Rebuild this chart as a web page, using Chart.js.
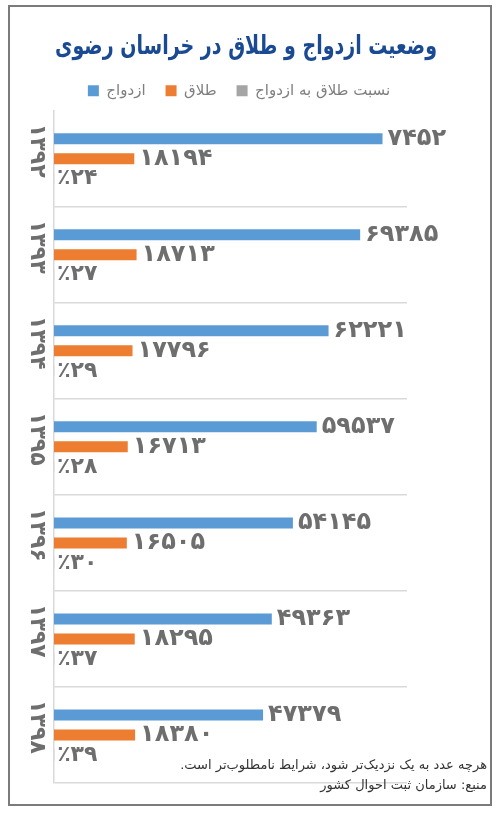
<!DOCTYPE html>
<html lang="fa">
<head>
<meta charset="utf-8">
<title>وضعیت ازدواج و طلاق در خراسان رضوی</title>
<script src="https://cdn.jsdelivr.net/npm/chart.js@4.4.1/dist/chart.umd.min.js"></script>
<style>
    body { margin: 0; background: #fff; }
    #wrap { position: relative; width: 500px; height: 814px; }
    #frame {
        position: absolute; left: 8px; top: 5px; width: 480px; height: 797px;
        border: 2px solid #7b7b7b; pointer-events: none;
    }
    .note {
        position: absolute; right: 13px; direction: rtl; text-align: right;
        font-family: "DejaVu Sans", sans-serif; font-size: 13px; color: #333;
    }
</style>
</head>
<body>
<div id="wrap">
    <canvas id="chart"></canvas>
    <div id="frame"></div>
    <div class="note" style="top: 757px;">هرچه عدد به یک نزدیک‌تر شود، شرایط نامطلوب‌تر است.</div>
    <div class="note" style="top: 777px;">منبع: سازمان ثبت احوال کشور</div>
</div>
<script>
// سال‌ها
const years = ['۱۳۹۲', '۱۳۹۳', '۱۳۹۴', '۱۳۹۵', '۱۳۹۶', '۱۳۹۷', '۱۳۹۸'];
// ازدواج
const marriage = [74452, 69385, 62221, 59537, 54145, 49363, 47379];
// عددی که روی نمودار اصلی چاپ شده (۷۴۴۵۲ به صورت ۷۴۵۲ آمده)
const marriagePrinted = [7452, 69385, 62221, 59537, 54145, 49363, 47379];
// طلاق
const divorce = [18194, 18713, 17796, 16713, 16505, 18295, 18380];
// نسبت طلاق به ازدواج (درصد)
const ratio = [24, 27, 29, 28, 30, 37, 39];

const faDigits = '۰۱۲۳۴۵۶۷۸۹';
function toFa(n) {
    return String(n).replace(/\d/g, d => faDigits[d]);
}

const labelFont = '"DejaVu Sans", sans-serif';

// اعداد کنار میله‌ها
const barLabels = {
    id: 'barLabels',
    afterDatasetsDraw(chart) {
        const ctx = chart.ctx;
        ctx.save();
        ctx.fillStyle = '#6e6e6e';
        ctx.textBaseline = 'middle';
        ctx.textAlign = 'left';
        chart.data.datasets.forEach((ds, i) => {
            const meta = chart.getDatasetMeta(i);
            meta.data.forEach((bar, j) => {
                let txt;
                if (i === 0) txt = toFa(marriagePrinted[j]);
                else if (i === 1) txt = toFa(divorce[j]);
                else txt = '٪' + toFa(ratio[j]);
                ctx.font = 'bold ' + (i === 2 ? 22 : 24) + 'px ' + labelFont;
                ctx.fillText(txt, bar.x + (i === 2 ? 3 : 5), bar.y);
            });
        });
        ctx.restore();
    }
};

// برچسب سال‌ها به صورت عمودی
const yearLabels = {
    id: 'yearLabels',
    afterDraw(chart) {
        const ctx = chart.ctx;
        const y = chart.scales.y;
        ctx.save();
        ctx.fillStyle = '#6e6e6e';
        ctx.font = 'bold 22px ' + labelFont;
        ctx.textAlign = 'center';
        ctx.textBaseline = 'middle';
        chart.data.labels.forEach((lbl, i) => {
            ctx.save();
            ctx.translate(37, y.getPixelForTick(i) - 8);
            ctx.rotate(Math.PI / 2);
            ctx.fillText(lbl, 0, 0);
            ctx.restore();
        });
        ctx.restore();
    }
};

// جای عنوان و راهنما در قاب، با کمی فاصله زیر راهنما
const header = {
    id: 'header',
    beforeLayout(chart) {
        const lg = chart.legend;
        if (lg && !lg._extra) {
            const fit = lg.fit;
            lg.fit = function () {
                fit.call(this);
                this.height += 2.5;
            };
            lg._extra = true;
        }
    },
    afterLayout(chart) {
        const t = chart.titleBlock;
        t.left = 55; t.right = 437; t.width = 382;
        const lg = chart.legend;
        lg.left = 0; lg.right = 478; lg.width = 478;
    }
};

const ctx = document.getElementById('chart').getContext('2d');
new Chart(ctx, {
    type: 'bar',
    data: {
        labels: years,
        datasets: [{
            label: 'ازدواج',
            data: marriage,
            backgroundColor: '#5b9bd5',
            borderWidth: 0
        }, {
            label: 'طلاق',
            data: divorce,
            backgroundColor: '#ed7d31',
            borderWidth: 0
        }, {
            label: 'نسبت طلاق به ازدواج',
            data: ratio,
            backgroundColor: '#a5a5a5',
            borderWidth: 0
        }]
    },
    options: {
        indexAxis: 'y',
        responsive: true,
        maintainAspectRatio: false,
        animation: false,
        datasets: {
            bar: {
                categoryPercentage: 0.625,
                barPercentage: 0.55
            }
        },
        layout: {
            padding: { left: 54, right: 93, top: 10, bottom: 31 }
        },
        scales: {
            x: {
                display: false,
                min: 0,
                max: 80000
            },
            y: {
                ticks: { display: false },
                grid: {
                    drawTicks: false,
                    lineWidth: 1.5,
                    color: function (c) {
                        return (c.index === 0 || c.index === years.length) ? 'rgba(0,0,0,0)' : '#d9d9d9';
                    }
                },
                border: { display: true, color: '#d9d9d9', width: 1.5 }
            }
        },
        plugins: {
            title: {
                display: true,
                text: 'وضعیت ازدواج و طلاق در خراسان رضوی',
                color: '#1a4a92',
                font: { family: labelFont, size: 26, weight: 'bold' },
                padding: { top: 22, bottom: 0 }
            },
            legend: {
                position: 'top',
                labels: {
                    color: '#7f7f7f',
                    font: { family: labelFont, size: 15 },
                    boxWidth: 11,
                    boxHeight: 11,
                    padding: 20
                }
            },
            tooltip: { enabled: false }
        }
    },
    plugins: [barLabels, yearLabels, header]
});
</script>
</body>
</html>
